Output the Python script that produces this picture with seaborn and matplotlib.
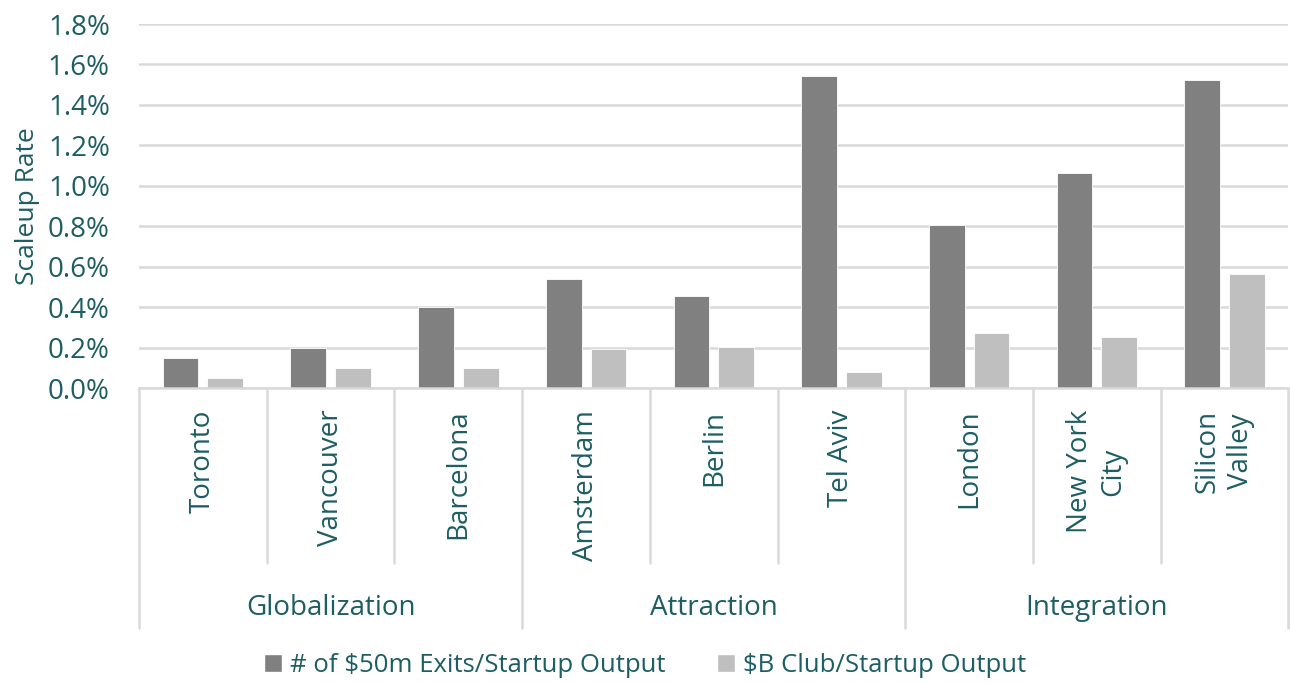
import pandas as pd
import numpy as np
import matplotlib.pyplot as plt
import seaborn as sns
from matplotlib.patches import Patch

cities = ["Toronto", "Vancouver", "Barcelona", "Amsterdam", "Berlin", "Tel Aviv",
          "London", "New York\nCity", "Silicon\nValley"]
groups = ["Globalization", "Attraction", "Integration"]
group_size = [3, 3, 3]
exits_50m = [0.15, 0.20, 0.40, 0.54, 0.455, 1.545, 0.805, 1.063, 1.525]
b_club = [0.05, 0.10, 0.10, 0.195, 0.205, 0.08, 0.27, 0.25, 0.563]
series = ["# of $50m Exits/Startup Output", "$B Club/Startup Output"]
yticks = [0.0, 0.2, 0.4, 0.6, 0.8, 1.0, 1.2, 1.4, 1.6, 1.8]

txt = "#1d5e63"
grid_c = "#d9d9d9"
colors = ["#808080", "#bfbfbf"]

df = pd.DataFrame({
    "city": cities * 2,
    "series": [series[0]] * len(cities) + [series[1]] * len(cities),
    "rate": exits_50m + b_club,
})

sns.set_style("white")
plt.rcParams["font.family"] = ["Open Sans", "DejaVu Sans"]

fig = plt.figure(figsize=(12.9, 6.84), dpi=100)
ax = fig.add_axes([0.1078, 0.4327, 0.891, 0.5322])

sns.barplot(data=df, x="city", y="rate", hue="series", palette=colors,
            width=0.70, gap=0.2, ax=ax, legend=False, edgecolor="white", linewidth=0.6)

ax.set_ylim(0, 1.8)
ax.set_xlim(-0.5, len(cities) - 0.5)
ax.set_yticks(yticks)
ax.set_yticklabels([f"{v:.1f}%" for v in yticks], fontsize=20, color=txt)
ax.tick_params(axis="y", length=0, pad=21)
ax.set_xticks([])
ax.set_xlabel("")
ax.set_ylabel("Scaleup Rate", fontsize=19, color=txt, labelpad=6)
ax.yaxis.grid(True, color=grid_c, lw=1.8)
ax.set_axisbelow(True)
for s in ["top", "right", "left"]:
    ax.spines[s].set_visible(False)
ax.spines["bottom"].set_color(grid_c)
ax.spines["bottom"].set_linewidth(1.8)

tr = ax.get_xaxis_transform()
# city labels and separators
for i, c in enumerate(cities):
    ax.text(i, -0.06, c, rotation=90, ha="center", va="top", fontsize=20,
            color=txt, transform=tr, multialignment="center", linespacing=1.25)
bounds = np.cumsum([0] + group_size) - 0.5
for k in range(len(cities) + 1):
    x = k - 0.5
    y_end = -0.66 if x in bounds else -0.48
    ax.plot([x, x], [0, y_end], color=grid_c, lw=1.8, transform=tr, clip_on=False)

# group labels
for g, name in enumerate(groups):
    mid = (bounds[g] + bounds[g + 1]) / 2
    ax.text(mid, -0.605, name, ha="center", va="center", fontsize=20, color=txt, transform=tr)

handles = [Patch(facecolor=colors[0]), Patch(facecolor=colors[1])]
fig.legend(handles, series, loc="lower center", bbox_to_anchor=(0.5, -0.025), ncol=2,
           frameon=False, fontsize=18.5, labelcolor=txt, handlelength=0.7, handleheight=0.7,
           handletextpad=0.3, columnspacing=2.0)

plt.savefig("out.png", dpi=100)
